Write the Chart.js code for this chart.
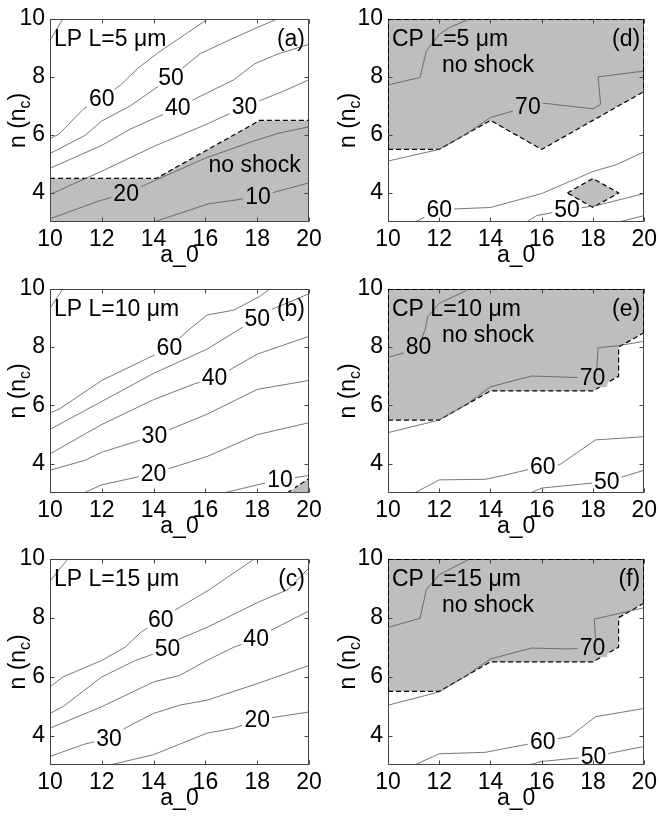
<!DOCTYPE html>
<html>
<head>
<meta charset="utf-8">
<script src="https://cdn.jsdelivr.net/npm/chart.js@4.4.0/dist/chart.umd.min.js"></script>
<style>
  html, body { margin: 0; padding: 0; background: #fff; }
  #wrap { position: relative; width: 661px; height: 817px; overflow: hidden; background: #fff; }
  canvas { position: absolute; }
</style>
</head>
<body>
<div id="wrap"></div>
<script>
// Contour maps: shock threshold over a_0 (x) and density n (y)

const xTicks = [10, 12, 14, 16, 18, 20];
const yTicks = [4, 6, 8, 10];

// (a) LP L=5 um
const a70 = [[10,9.25],[10.5,10]];
const a60 = [[10,5.87],[10.35,6.03],[11.3,6.9],[12,7.25],[12.7,7.7],[13.4,8.3],[14.2,8.85],[15.2,9.45],[16.1,10]];
const a50 = [[10,5.36],[11.35,5.98],[12,6.48],[13.1,7.0],[14.67,7.98],[15.8,8.8],[17,9.3],[18,9.7],[18.8,10]];
const a40 = [[10,4.85],[12,5.64],[13.1,6.2],[14.93,6.93],[15.8,7.33],[17.1,7.9],[17.9,8.45],[18.8,8.79],[20,9.12]];
const a30 = [[10,3.95],[12,4.75],[14,5.6],[16,6.35],[17.51,6.97],[19,7.5],[20,7.9]];
const a20 = [[10,3.11],[11.9,3.73],[12.94,3.98],[14.1,4.45],[16,5.2],[17.9,5.8],[18.8,6.05],[20,6.28]];
const a10 = [[14,3],[16.1,3.62],[18.03,3.87],[20,4.35]];
const aShade = [[10,3],[10,4.5],[14.1,4.5],[18.1,6.5],[20,6.5],[20,3]];
const aEdge = [[10,4.5],[14.1,4.5],[18.1,6.5],[20,6.5]];
const aLabels = [[12,7.25,'60'],[14.67,7.98,'50'],[14.93,6.93,'40'],[17.51,6.97,'30'],[12.94,3.98,'20'],[18.03,3.87,'10']];

// (d) CP L=5 um
const d80 = [[10,7.72],[11.25,7.98],[11.5,8.9],[12,9.46],[12.4,9.7],[13.2,10]];
const d70 = [[10,5.1],[12,5.5],[13,6.0],[14,6.6],[15.46,6.97],[16,7.1],[17,7.0],[18,6.9],[18.3,7.05],[18.2,8.0],[20,8.2]];
const d60 = [[11.05,3],[11.5,3.2],[12,3.42],[12.6,3.45],[14,3.5],[16,3.98],[18,4.74],[18.9,4.97],[20,5.42]];
const d50 = [[15.4,3],[15.8,3.22],[16.99,3.42],[18.1,3.56],[20,3.98]];
const d40 = [[19,3],[20,3.22]];
const dShade = [[10,10],[20,10],[20,7.5],[16,5.5],[14,6.5],[12,5.5],[10,5.5]];
const dEdge = [[10,5.5],[12,5.5],[14,6.5],[16,5.5],[20,7.5]];
const dIsle = [[17,4],[18,4.5],[19,4],[18,3.5],[17,4]];
const dLabels = [[15.46,6.97,'70'],[12,3.42,'60'],[16.99,3.42,'50']];

// (b) LP L=10 um
const b70 = [[10,9.33],[10.5,10]];
const b60 = [[10,5.74],[10.4,5.9],[12,6.86],[14.61,7.98],[15.3,8.55],[16.06,9.1],[17.1,9.27],[18.1,9.74],[18.5,10]];
const b50 = [[10,5.18],[12,6.14],[14,7.1],[16.06,7.93],[17.1,8.5],[18,8.99],[18.5,9.27],[20,9.83]];
const b40 = [[10,4.34],[12,5.35],[14,6.2],[15.6,6.75],[16.35,6.94],[17,7.25],[18,7.76],[20,8.37]];
const b30 = [[10,3.78],[11.35,4.12],[12,4.4],[14.03,4.96],[16.06,5.7],[18,6.55],[20,6.86]];
const b20 = [[11.3,3],[12,3.28],[14,3.67],[16.06,4.25],[18,5.0],[20,5.41]];
const b10 = [[16.7,3],[18.1,3.3],[18.88,3.45],[20,3.6]];
const bShade = [[19.15,3],[20,3.5],[20,3]];
const bEdge = [[19.15,3],[20,3.5]];
const bLabels = [[14.61,7.98,'60'],[18,8.99,'50'],[16.35,6.94,'40'],[14.03,4.96,'30'],[14,3.67,'20'],[18.88,3.45,'10']];

// (e) CP L=10 um
const e80 = [[10,7.65],[10.8,7.85],[11.19,8.02],[11.45,8.6],[11.55,9.05],[12,9.5],[13.2,10]];
const e70 = [[10,5.07],[12,5.5],[13,6.0],[14,6.64],[15.6,7.01],[16,7.0],[17.98,6.94],[18.15,7.3],[18.2,7.98],[19,8.05],[20,8.2]];
const e60 = [[11.03,3],[12,3.45],[13.8,3.47],[14.5,3.6],[16.04,3.92],[16.7,3.97],[18.1,4.82],[20,4.93]];
const e50 = [[15.56,3],[16,3.17],[17.5,3.3],[18.54,3.39],[20,3.78]];
const eShade = [[10,10],[20,10],[20,8.5],[19,8],[19,7],[18,6.5],[14,6.5],[12,5.5],[10,5.5]];
const eEdge = [[10,5.5],[12,5.5],[14,6.5],[18,6.5],[19,7],[19,8],[20,8.5]];
const eLabels = [[11.19,8.02,'80'],[17.98,6.94,'70'],[16.04,3.92,'60'],[18.54,3.39,'50']];

// (c) LP L=15 um
const c70 = [[10,9.24],[10.6,9.9],[10.7,10]];
const c60 = [[10,5.65],[10.5,5.99],[12,6.55],[12.9,7.0],[13.5,7.5],[14.28,7.95],[14.9,8.3],[16.06,8.9],[17.9,10]];
const c50 = [[10,4.75],[10.5,4.98],[12,5.99],[13.3,6.55],[14.54,6.94],[15,7.28],[16.06,7.67],[18,8.51],[19.2,8.96],[20,9.69]];
const c40 = [[10,4.25],[12,4.98],[14,5.82],[15,6.04],[16.06,6.55],[17.1,7.0],[17.96,7.28],[18.5,7.56],[20,8.23]];
const c30 = [[10,3.29],[11.3,3.7],[12.28,3.91],[13,4.3],[14,4.75],[15,5.03],[16.06,5.2],[18,5.76],[20,6.38]];
const c20 = [[12.3,3],[14,3.35],[15.1,3.74],[16.06,4.08],[17.1,4.25],[18,4.53],[20,4.8]];
const cLabels = [[14.28,7.95,'60'],[14.54,6.94,'50'],[17.96,7.28,'40'],[12.28,3.91,'30'],[18,4.53,'20']];

// (f) CP L=15 um
const f80 = [[10,7.67],[11.25,7.98],[11.5,8.96],[12,9.46],[13.2,10]];
const f70 = [[10,5.03],[12,5.48],[13,6.0],[14,6.6],[15.6,6.97],[17,6.94],[17.98,6.97],[18.1,7.3],[18.05,7.95],[20,8.34]];
const f60 = [[11.03,3],[12,3.38],[13.8,3.43],[14.5,3.55],[16.04,3.8],[17.1,3.97],[18.1,4.64],[20,4.92]];
const f50 = [[15.5,3],[16,3.12],[18.02,3.29],[20,3.63]];
const fShade = [[10,10],[20,10],[20,8.5],[19,8],[19,7],[18,6.5],[14,6.5],[12,5.5],[10,5.5]];
const fEdge = [[10,5.5],[12,5.5],[14,6.5],[18,6.5],[19,7],[19,8],[20,8.5]];
const fLabels = [[17.98,6.97,'70'],[16.04,3.8,'60'],[18.02,3.29,'50']];

const FONT = "'Liberation Sans', Arial, Helvetica, sans-serif";
const shadeColor = 'rgb(190,190,190)';
const lineColor = '#555';

const panels = [
  { tag: '(a)', title: 'LP L=5 μm', left: 0, top: 0, w: 330, h: 270, padTop: 14, padRight: 21, yW: 50, xH: 48, tPad: 1,
    lines: [a70, a60, a50, a40, a30, a20, a10], shades: [aShade], edges: [aEdge], labels: aLabels, note: [17.9, 4.97], dashBorder: false },
  { tag: '(d)', title: 'CP L=5 μm', left: 330, top: 0, w: 331, h: 270, padTop: 14, padRight: 15, yW: 58, xH: 48, tPad: 1,
    lines: [d80, d70, d60, d50, d40], shades: [dShade, dIsle], edges: [dEdge, dIsle], labels: dLabels, note: [13.9, 8.43], dashBorder: true },
  { tag: '(b)', title: 'LP L=10 μm', left: 0, top: 270, w: 330, h: 270, padTop: 15, padRight: 21, yW: 50, xH: 47, tPad: 0,
    lines: [b70, b60, b50, b40, b30, b20, b10], shades: [bShade], edges: [bEdge], labels: bLabels, note: null, dashBorder: false },
  { tag: '(e)', title: 'CP L=10 μm', left: 330, top: 270, w: 331, h: 270, padTop: 15, padRight: 15, yW: 58, xH: 47, tPad: 0,
    lines: [e80, e70, e60, e50], shades: [eShade], edges: [eEdge], labels: eLabels, note: [13.9, 8.43], dashBorder: true },
  { tag: '(c)', title: 'LP L=15 μm', left: 0, top: 540, w: 330, h: 277, padTop: 17, padRight: 21, yW: 50, xH: 52, tPad: 5,
    lines: [c70, c60, c50, c40, c30, c20], shades: [], edges: [], labels: cLabels, note: null, dashBorder: false },
  { tag: '(f)', title: 'CP L=15 μm', left: 330, top: 540, w: 331, h: 277, padTop: 17, padRight: 15, yW: 58, xH: 52, tPad: 5,
    lines: [f80, f70, f60, f50], shades: [fShade], edges: [fEdge], labels: fLabels, note: [13.9, 8.43], dashBorder: true }
];

function pts(a) { return a.map(p => ({ x: p[0], y: p[1] })); }

function inside(poly, x, y) {
  let hit = false;
  for (let i = 0, j = poly.length - 1; i < poly.length; j = i++) {
    const [xi, yi] = poly[i], [xj, yj] = poly[j];
    if ((yi > y) !== (yj > y) && x < (xj - xi) * (y - yi) / (yj - yi) + xi) hit = !hit;
  }
  return hit;
}

function decor(p) {
  return {
    id: 'decor',
    afterDatasetsDraw(chart) {
      const { ctx, chartArea: ca, scales } = chart;
      const sx = scales.x, sy = scales.y;
      ctx.save();

      // contour labels, with a patch cut out of the line
      ctx.font = '23px ' + FONT;
      ctx.textAlign = 'center';
      ctx.textBaseline = 'middle';
      p.labels.forEach(([lx, ly, t]) => {
        const px = sx.getPixelForValue(lx), py = sy.getPixelForValue(ly);
        const w = ctx.measureText(t).width;
        ctx.fillStyle = p.shades.some(s => inside(s, lx, ly)) ? shadeColor : '#fff';
        ctx.fillRect(px - w / 2 - 2, py - 9, w + 4, 18);
        ctx.fillStyle = '#000';
        ctx.fillText(t, px, py + 1);
      });

      if (p.note) {
        ctx.fillText('no shock', sx.getPixelForValue(p.note[0]), sy.getPixelForValue(p.note[1]) + 1);
      }

      // panel title and tag
      ctx.textBaseline = 'alphabetic';
      ctx.textAlign = 'left';
      ctx.fillText(p.title, ca.left + 4, ca.top + 27);
      ctx.textAlign = 'right';
      ctx.fillText(p.tag, ca.right - 4, ca.top + 27);

      // frame and inner ticks
      const L = Math.round(ca.left) + 0.5, R = Math.round(ca.right) - 0.5;
      const T = Math.round(ca.top) + 0.5, B = Math.round(ca.bottom) - 0.5;
      ctx.strokeStyle = '#444';
      ctx.lineWidth = 1;
      ctx.strokeRect(L, T, R - L, B - T);
      ctx.beginPath();
      xTicks.forEach(v => {
        const px = Math.round(sx.getPixelForValue(v)) + 0.5;
        ctx.moveTo(px, B); ctx.lineTo(px, B - 4);
        ctx.moveTo(px, T); ctx.lineTo(px, T + 4);
      });
      yTicks.forEach(v => {
        const py = Math.round(sy.getPixelForValue(v)) + 0.5;
        ctx.moveTo(L, py); ctx.lineTo(L + 4, py);
        ctx.moveTo(R, py); ctx.lineTo(R - 4, py);
      });
      ctx.stroke();

      // dashed contour of the shaded zone where it runs along the frame
      if (p.dashBorder) {
        const snap = (v, lo, hi) => (v === lo ? lo : v === hi ? hi : null);
        ctx.strokeStyle = '#000';
        ctx.setLineDash([5, 3]);
        ctx.beginPath();
        p.shades.forEach(s => {
          for (let i = 0; i < s.length; i++) {
            const a = s[i], b = s[(i + 1) % s.length];
            const onX = a[0] === b[0] && snap(a[0], 10, 20) !== null;
            const onY = a[1] === b[1] && snap(a[1], 3, 10) !== null;
            if (!onX && !onY) continue;
            const ax = onX ? (a[0] === 10 ? L : R) : sx.getPixelForValue(a[0]);
            const bx = onX ? ax : sx.getPixelForValue(b[0]);
            const ay = onY ? (a[1] === 10 ? T : B) : sy.getPixelForValue(a[1]);
            const by = onY ? ay : sy.getPixelForValue(b[1]);
            ctx.moveTo(ax, ay); ctx.lineTo(bx, by);
          }
        });
        ctx.stroke();
        ctx.setLineDash([]);
      }

      // y title with subscript
      ctx.translate(25, (ca.top + ca.bottom) / 2);
      ctx.rotate(-Math.PI / 2);
      ctx.textAlign = 'left';
      const big = '23px ' + FONT, small = '16px ' + FONT;
      ctx.font = big;
      const w1 = ctx.measureText('n (n').width, w3 = ctx.measureText(')').width;
      ctx.font = small;
      const w2 = ctx.measureText('c').width;
      const x0 = -(w1 + w2 + w3) / 2;
      ctx.fillStyle = '#000';
      ctx.font = big; ctx.fillText('n (n', x0, 0);
      ctx.font = small; ctx.fillText('c', x0 + w1, 5);
      ctx.font = big; ctx.fillText(')', x0 + w1 + w2, 0);
      ctx.restore();
    }
  };
}

Chart.defaults.font.family = FONT;
const wrap = document.getElementById('wrap');

panels.forEach(p => {
  const cv = document.createElement('canvas');
  cv.width = p.w;
  cv.height = p.h;
  cv.style.left = p.left + 'px';
  cv.style.top = p.top + 'px';
  wrap.appendChild(cv);

  const datasets = [];
  p.lines.forEach(l => datasets.push({
    data: pts(l), borderColor: lineColor, borderWidth: 0.8, pointRadius: 0, fill: false, order: 0
  }));
  p.edges.forEach(e => datasets.push({
    data: pts(e), borderColor: '#000', borderWidth: 1.2, borderDash: [5, 3], pointRadius: 0, fill: false, order: 1
  }));
  p.shades.forEach(s => datasets.push({
    data: pts(s.concat([s[0]])), borderColor: 'rgba(0,0,0,0)', borderWidth: 0,
    backgroundColor: shadeColor, fill: 'shape', pointRadius: 0, order: 2
  }));

  const tickFont = { size: 23, family: FONT };
  new Chart(cv, {
    type: 'line',
    data: { datasets },
    options: {
      responsive: false,
      animation: false,
      devicePixelRatio: 1,
      layout: { padding: { top: p.padTop, right: p.padRight, left: 0, bottom: 0 } },
      plugins: { legend: { display: false }, tooltip: { enabled: false } },
      elements: { line: { tension: 0 } },
      scales: {
        x: {
          type: 'linear', min: 10, max: 20,
          afterBuildTicks: s => { s.ticks = xTicks.map(v => ({ value: v })); },
          afterFit: s => { s.height = p.xH; },
          grid: { display: false, drawTicks: false },
          border: { display: false },
          ticks: { font: tickFont, color: '#000', padding: 4, maxRotation: 0, autoSkip: false },
          title: { display: true, text: 'a_0', font: tickFont, color: '#000', padding: { top: 0, bottom: p.tPad } }
        },
        y: {
          type: 'linear', min: 3, max: 10,
          afterBuildTicks: s => { s.ticks = yTicks.map(v => ({ value: v })); },
          afterFit: s => { s.width = p.yW; },
          grid: { display: false, drawTicks: false },
          border: { display: false },
          ticks: { font: tickFont, color: '#000', padding: 5, autoSkip: false }
        }
      }
    },
    plugins: [decor(p)]
  });
});
</script>
</body>
</html>
